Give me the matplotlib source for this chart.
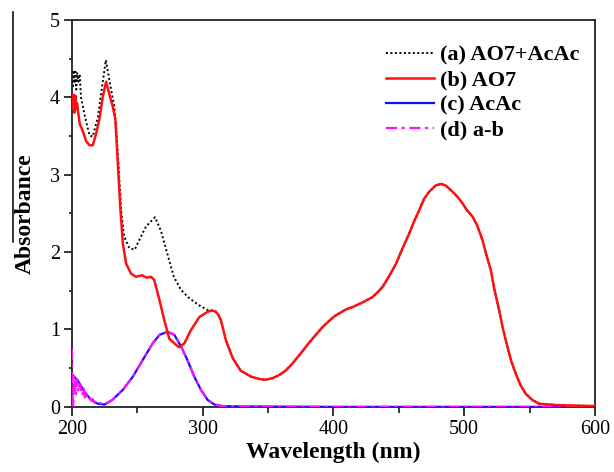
import matplotlib
matplotlib.use('Agg')
import matplotlib.pyplot as plt
from matplotlib.lines import Line2D
from matplotlib.ticker import MultipleLocator

plt.rcParams['font.family'] = ['Liberation Serif', 'DejaVu Serif']

# (a) AO7+AcAc, UV part (dotted black)
wl_a = [200, 200.7, 201.4, 202, 202.7, 203.4, 204, 205, 206, 207, 210, 213.5, 216, 220, 222,
        226, 230, 232.5, 235, 237.7, 240, 244, 248, 251.7, 256.7, 263.6, 268, 273, 278,
        283.5, 290, 297.5, 304, 307]
abs_a = [4.33, 4.12, 4.35, 4.18, 4.33, 4.1, 4.32, 4.2, 4.3, 4.0, 3.75, 3.51, 3.49, 3.75, 4.0,
         4.48, 4.1, 3.88, 3.32, 2.54, 2.2, 2.05, 2.03, 2.16, 2.33, 2.45, 2.28, 1.98, 1.68,
         1.51, 1.40, 1.31, 1.25, 1.245]

# (b) AO7, UV part (red)
wl_b = [200, 200.7, 201.4, 202, 202.7, 203.4, 204, 206, 208.4, 211, 213.5, 216, 218.6, 221,
        223.7, 226.2, 228.8, 231.3, 233.3, 235, 237, 239, 241.5, 245.3, 249, 253.7, 257,
        260.5, 263, 267, 270.7, 274.5, 278.4, 282, 286, 291, 297.5, 304, 307]
abs_b = [4.02, 3.85, 4.03, 3.8, 4.02, 3.85, 3.92, 3.66, 3.56, 3.43, 3.38, 3.38, 3.53, 3.71,
         4.01, 4.20, 4.03, 3.88, 3.71, 3.19, 2.59, 2.11, 1.85, 1.72, 1.68, 1.70, 1.67,
         1.68, 1.64, 1.38, 1.12, 0.88, 0.82, 0.77, 0.82, 0.99, 1.16, 1.23, 1.245]

# visible band, where (a) and (b) coincide
wl_vis = [310, 312, 314, 317.8, 323, 329, 337, 343.3, 348, 353.4, 358.5, 363.6, 368.7, 375,
          381, 386.5, 391.6, 396.7, 400.8, 404.6, 409.7, 414.8, 422.4, 430, 433.8, 437.6,
          442.7, 447.9, 452.9, 458, 461.8, 465.6, 469.4, 473.3, 478.2, 482.2, 485.8, 489.8,
          494.5, 498.7, 502.1, 506.3, 509.8, 513.9, 516.7, 520.3, 523.2, 526.7, 529.6, 533,
          536.2, 539.4, 543.1, 547, 552, 557.3, 564.8, 575, 600]
abs_vis = [1.23, 1.19, 1.12, 0.86, 0.63, 0.47, 0.39, 0.36, 0.35, 0.37, 0.41, 0.47, 0.56,
           0.69, 0.82, 0.93, 1.03, 1.11, 1.17, 1.21, 1.26, 1.29, 1.35, 1.42, 1.48, 1.55,
           1.69, 1.85, 2.05, 2.24, 2.40, 2.54, 2.69, 2.78, 2.86, 2.88, 2.86, 2.80,
           2.72, 2.63, 2.54, 2.46, 2.35, 2.16, 1.98, 1.77, 1.51, 1.25, 1.01, 0.78,
           0.58, 0.43, 0.28, 0.17, 0.09, 0.04, 0.03, 0.02, 0.01]

# (c) AcAc, blue
wl_c = [200, 204.6, 209.7, 214.8, 219.8, 225, 231, 239, 246.6, 254, 261.8, 267, 273.3,
        278.4, 283.5, 288.5, 293.6, 298.7, 303.8, 309, 315, 330, 400, 500, 600]
abs_c = [0.42, 0.34, 0.19, 0.09, 0.04, 0.03, 0.09, 0.22, 0.39, 0.60, 0.82, 0.93, 0.97,
         0.93, 0.78, 0.60, 0.39, 0.22, 0.09, 0.03, 0.01, 0.005, 0.0, 0.0, 0.0]

# (d) a-b, magenta
wl_d = [200, 200.5, 201, 201.5, 202, 203, 204, 205, 206, 207, 208, 209, 210, 211, 212, 213,
        214.8, 216, 218, 219.8, 225, 231, 239, 246.6, 254, 261.8, 267, 273.3, 278.4, 283.5,
        288.5, 293.6, 298.7, 303.8, 309, 315, 330, 400, 500, 600]
abs_d = [0.75, 0.2, 0.0, 0.3, 0.4, 0.15, 0.35, 0.2, 0.3, 0.22, 0.15, 0.25, 0.12, 0.18, 0.1,
         0.12, 0.08, 0.1, 0.04, 0.06, 0.03, 0.09, 0.22, 0.39, 0.60, 0.82, 0.93, 0.97, 0.93,
         0.78, 0.60, 0.39, 0.22, 0.09, 0.03, 0.01, 0.005, 0.0, 0.0, 0.0]

fig = plt.figure(figsize=(6.14, 4.72), dpi=100)
ax = fig.add_axes([0.117, 0.138, 0.852, 0.82])

ax.plot(wl_a + wl_vis, abs_a + abs_vis, color='black', linestyle=(0, (1, 1.3)),
        linewidth=1.4, label='(a) AO7+AcAc')
ax.plot(wl_c, abs_c, color='#1010ff', linewidth=1.6, label='(c) AcAc', zorder=3)
ax.plot(wl_d, abs_d, color='#ff10ff', linestyle=(0, (5, 2, 1.5, 2)), linewidth=1.6,
        label='(d) a-b', zorder=4)
ax.plot(wl_b + wl_vis, abs_b + abs_vis, color='#ff1010', linewidth=1.8, label='(b) AO7',
        zorder=5)

ax.set_xlim(200, 600)
ax.set_ylim(0, 5)
ax.xaxis.set_major_locator(MultipleLocator(100))
ax.xaxis.set_minor_locator(MultipleLocator(50))
ax.yaxis.set_major_locator(MultipleLocator(1))
ax.yaxis.set_minor_locator(MultipleLocator(0.5))
ax.tick_params(axis='x', which='major', direction='out', length=6.5, width=1.1,
               labelsize=14.5, pad=3)
ax.tick_params(axis='x', which='minor', direction='out', length=4.3, width=1.1)
ax.tick_params(axis='y', which='major', direction='out', length=5.5, width=1.1,
               labelsize=14.5, pad=3)
ax.tick_params(axis='y', which='minor', direction='out', length=2.5, width=1.1)
for s in ax.spines.values():
    s.set_linewidth(1.3)
    s.set_color('#222222')

ax.set_xlabel('Wavelength (nm)', fontsize=17, fontweight='bold', labelpad=2)
ax.set_ylabel('Absorbance', fontsize=17, fontweight='bold', labelpad=10)

h, l = ax.get_legend_handles_labels()
order = [0, 3, 1, 2]
ax.legend([h[i] for i in order], [l[i] for i in order], loc='upper left',
          bbox_to_anchor=(0.579, 0.963), frameon=False, borderpad=0,
          handlelength=2.15, handletextpad=0.3, labelspacing=0.2,
          prop={'weight': 'bold', 'size': 16})

# stray crop edge from the source figure
fig.add_artist(Line2D([13 / 614, 13 / 614], [1 - 12 / 472, 1 - 242 / 472],
                      color='black', linewidth=1.1))

fig.savefig('out.png', dpi=100)
